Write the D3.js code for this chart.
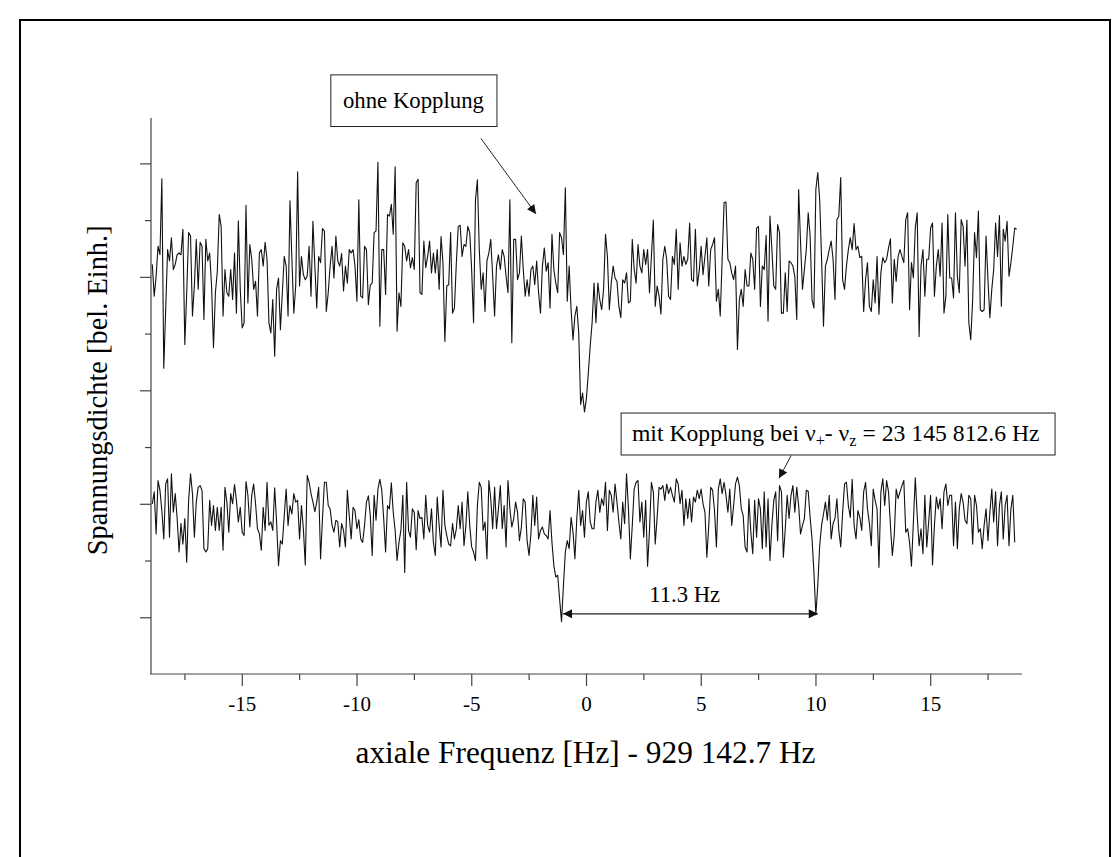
<!DOCTYPE html>
<html><head><meta charset="utf-8">
<script src="https://cdn.jsdelivr.net/npm/d3@7"></script>
<style>
body{margin:0;background:#fff}
svg{display:block}
text{font-family:"Liberation Serif","Times New Roman",serif;fill:#000}
</style>
</head><body>
<svg id="c" width="1113" height="857"></svg>
<script>
// ---- data ----
const freqStart = -18.9;      // Hz, first spectral bin
const freqStep = 1 / 12;      // Hz, bin spacing
const upperTrace = [ // ohne Kopplung
7.22,6.66,7.01,7.54,7.39,8.73,5.39,6.42,7.48,7.28,
7.69,7.13,7.22,7.39,7.42,7.39,7.84,5.81,6.72,7.78,
7.72,6.31,6.84,7.66,6.78,7.61,7.54,6.25,7.66,7.28,
7.42,6.84,5.75,6.72,7.10,8.10,7.89,6.31,7.13,6.72,
6.66,7.13,6.60,7.42,6.36,7.99,6.78,6.10,6.19,8.26,
6.54,7.57,7.31,6.78,6.92,6.31,7.42,7.48,7.19,7.61,
7.31,6.19,6.01,6.60,5.60,6.78,6.98,6.07,6.72,7.36,
7.19,6.31,8.34,7.31,6.36,6.84,8.85,6.84,7.36,7.04,
6.95,7.01,7.54,6.66,7.98,7.19,6.45,7.36,7.25,7.85,
7.81,6.39,6.72,7.19,7.54,6.98,7.72,7.28,7.19,7.41,
6.75,7.19,6.89,7.48,7.42,7.48,7.19,6.57,8.36,6.66,
6.63,7.54,7.48,6.51,
6.86,6.89,7.78,7.81,9.02,6.13,7.48,7.48,6.69,8.10,
8.07,8.28,7.75,8.94,6.04,6.72,6.48,7.60,7.54,7.28,
7.48,7.16,7.34,7.13,8.66,8.72,6.72,6.69,7.63,7.16,
7.36,7.63,7.07,7.42,7.07,7.48,6.78,7.71,7.25,5.86,
6.84,6.86,7.78,6.36,6.45,7.25,7.89,7.91,7.36,7.57,
7.54,7.89,7.78,7.13,6.19,8.36,8.71,7.48,6.78,7.07,
6.39,7.28,7.42,7.66,7.01,6.31,7.19,7.39,7.13,7.48,
7.36,7.01,6.72,8.36,5.84,7.66,7.66,6.95,7.07,7.72,
7.13,6.66,6.95,6.66,7.13,7.19,6.86,7.28,6.72,6.36,
7.19,7.51,7.10,7.25,6.45,7.75,7.13,6.89,6.72,7.78,
7.69,7.39,8.57,6.57,7.19,6.42,5.89,6.31,6.48,6.01,
4.75,4.95,4.62,4.85,5.30,
5.78,6.19,6.89,6.19,6.89,6.60,6.42,6.78,7.75,7.36,
6.42,6.89,7.19,6.98,6.92,6.48,6.28,6.95,6.89,7.07,
6.54,6.57,7.66,7.13,6.89,7.57,7.19,7.07,7.48,7.22,
7.48,6.72,7.36,8.00,6.48,6.84,6.66,6.34,7.31,7.54,
7.31,6.66,6.60,7.36,7.22,7.84,6.78,7.60,7.19,7.36,
7.22,7.31,7.95,6.95,6.92,7.84,6.84,7.10,7.54,7.04,
7.36,7.69,6.84,7.48,7.57,7.69,6.57,6.78,6.31,7.31,
8.31,8.32,7.31,7.25,7.07,6.95,7.19,5.72,6.60,6.78,
6.48,7.13,6.84,6.84,7.42,7.31,6.78,7.86,7.89,6.48,
7.19,7.13,7.73,6.22,8.07,7.48,6.84,6.78,7.92,7.78,
6.36,6.36,7.07,6.39,7.28,7.25,7.19,7.01,6.25,8.54,
7.60,6.78,7.13,7.48,
8.13,7.72,6.60,6.45,8.54,8.84,8.36,7.31,6.13,7.19,
7.31,7.48,7.63,7.31,6.60,8.01,8.07,8.75,6.95,6.78,
7.19,7.48,7.69,7.48,7.94,7.48,7.54,7.34,7.36,6.39,
6.95,7.25,6.48,6.39,6.95,6.54,7.36,6.34,7.07,7.34,
7.25,7.31,7.51,7.67,6.54,7.31,6.92,7.36,7.48,7.36,
7.25,8.01,8.13,6.42,7.25,6.98,7.86,8.13,5.95,7.19,
7.48,6.66,7.31,7.31,7.86,7.95,6.66,7.19,7.48,7.01,
7.95,6.36,6.66,8.10,6.98,6.98,6.63,8.13,7.01,6.72,
8.01,7.89,7.19,8.00,6.19,5.89,6.60,7.78,7.34,8.16,
6.42,6.39,6.42,7.72,6.95,6.28,6.78,7.13,7.95,7.36,
8.08,6.48,7.84,7.63,7.98,7.01,7.25,7.54,7.86,7.84
];
const lowerTrace = [ // mit Kopplung
3.00,3.21,2.47,3.41,3.24,2.88,2.38,3.35,3.44,2.41,
3.53,2.85,3.18,2.74,2.15,2.65,2.29,2.74,1.97,3.06,
3.53,3.18,2.41,3.03,3.29,3.32,3.24,2.21,2.15,2.21,
3.06,2.62,2.97,2.53,2.94,2.53,2.94,2.18,3.29,3.03,
2.50,3.18,3.00,3.34,3.06,2.68,2.94,2.50,2.44,3.39,
3.15,2.59,3.15,3.35,3.00,2.56,2.47,2.18,2.94,2.53,
3.38,2.62,2.68,2.53,3.28,2.68,1.91,2.35,2.29,2.79,
3.26,2.62,2.97,2.82,3.18,3.03,3.06,2.38,2.97,2.56,
1.92,3.50,3.38,3.18,3.03,2.86,3.03,3.29,2.03,2.74,
3.38,3.38,2.97,2.91,2.62,2.50,2.71,2.68,2.24,2.65,
2.53,2.24,3.24,2.79,2.38,2.94,2.88,2.56,2.72,2.38,
2.32,2.62,3.03,3.14,
2.79,2.09,3.15,2.71,3.26,3.43,3.24,2.74,2.15,2.97,
2.91,3.37,2.85,2.53,2.00,2.32,2.53,3.15,1.79,3.38,
2.53,2.41,2.91,2.85,2.19,2.88,2.74,2.76,2.38,3.15,
2.62,2.50,2.91,2.32,2.09,3.12,2.62,2.24,3.24,2.62,
2.44,2.29,2.26,2.65,2.38,2.56,2.97,2.56,3.03,2.26,
2.62,3.21,2.62,2.24,2.15,2.00,2.97,3.38,3.29,2.53,
2.68,2.03,3.41,3.09,2.56,3.29,2.56,2.91,3.32,2.56,
2.97,2.24,3.41,2.91,2.59,2.74,3.03,2.85,2.35,2.59,
3.09,3.03,2.35,2.09,2.47,3.15,2.62,3.12,2.38,2.53,
2.59,2.47,2.44,2.38,2.88,2.32,1.91,1.71,1.74,1.32,
0.92,
1.56,2.15,2.35,2.21,2.76,2.50,2.03,2.74,3.24,2.62,2.88,2.41,3.03,
3.21,2.68,2.56,2.56,3.03,3.24,2.85,3.09,2.97,3.38,
2.53,3.24,3.15,2.85,3.35,3.03,2.68,2.38,3.03,2.65,
3.53,2.91,2.03,2.62,3.26,3.38,3.41,2.68,3.03,2.41,
3.06,1.90,2.53,3.38,3.21,2.29,2.76,3.29,3.26,3.32,
3.06,3.35,3.18,3.29,3.15,3.03,3.44,3.35,3.00,3.24,
2.62,3.09,2.74,3.09,2.68,3.12,3.03,3.24,3.09,3.26,
3.00,2.85,2.06,2.62,3.29,3.24,2.88,2.24,3.26,3.44,
3.18,3.38,3.15,2.85,3.26,2.62,2.97,3.35,3.47,3.32,
2.91,2.79,2.24,2.15,3.09,2.50,2.12,3.06,2.41,3.09,
2.91,2.21,3.21,2.24,3.09,2.00,2.62,3.06,3.21,2.35,
3.32,3.21,2.06,2.56,3.15,2.74,3.15,3.32,2.85,3.29,
2.97,2.47,2.62,2.74,3.24,
3.22,2.76,2.38,1.79,1.04,1.56,2.26,2.62,2.82,3.03,
2.71,3.15,2.38,2.65,2.74,3.09,2.53,2.24,2.85,3.35,
3.38,2.97,2.76,3.43,2.62,2.38,2.88,2.76,2.53,3.21,
3.38,2.91,2.65,2.26,3.26,3.06,2.91,1.88,3.21,3.44,
2.97,3.41,3.21,2.62,2.09,2.44,3.26,3.09,3.21,3.32,
3.41,2.50,2.56,2.32,1.90,2.68,3.46,2.79,2.26,2.56,
2.12,3.15,2.24,2.68,3.15,1.92,2.62,3.12,2.91,3.09,
2.56,3.21,3.35,2.97,3.15,3.15,2.26,3.03,2.21,2.91,
3.18,3.03,2.71,2.65,3.15,3.09,2.29,3.15,2.97,2.50,
2.56,2.21,2.62,2.91,2.35,2.85,3.26,2.68,3.21,2.26,
2.97,3.21,2.38,2.97,3.15,2.26,2.91,3.15,2.32
];
const xMajorTicks = [-15, -10, -5, 0, 5, 10, 15];
const xMinorTicks = [-17.5, -12.5, -7.5, -2.5, 2.5, 7.5, 12.5, 17.5];
const yMajorTicks = [1, 3, 5, 7, 9];
const yMinorTicks = [2, 4, 6, 8];
const xTitle = "axiale Frequenz [Hz] - 929 142.7 Hz";
const yTitle = "Spannungsdichte [bel. Einh.]";
const label1 = "ohne Kopplung";
const splitLabel = "11.3 Hz";
const dipLeft = -1.0, dipRight = 10.1;  // Hz, the two coupled dips

// ---- drawing ----
const svg = d3.select("#c");
const x = d3.scaleLinear().domain([-19, 19]).range([150, 1022]);
const y = d3.scaleLinear().domain([0, 9.8]).range([674, 118]);

// fit a text element to a target width by scaling its font size
function fit(sel, target) {
  const w = sel.node().getComputedTextLength();
  const fs = parseFloat(sel.attr("font-size"));
  sel.attr("font-size", (fs * target / w).toFixed(2));
  sel.selectAll("tspan").each(function () {
    const t = d3.select(this);
    if (t.attr("font-size")) t.attr("font-size", (parseFloat(t.attr("font-size")) * target / w).toFixed(2));
  });
  return sel;
}

// outer frame
svg.append("rect").attr("x", 20).attr("y", 20).attr("width", 1090).attr("height", 900)
  .attr("fill", "none").attr("stroke", "#000").attr("stroke-width", 2);

// axes
const gx = svg.append("g").attr("transform", `translate(0,${y(0)})`);
gx.call(d3.axisBottom(x).tickValues(xMajorTicks).tickSize(12).tickPadding(10)
  .tickFormat(d => String(d)));
const gx2 = svg.append("g").attr("transform", `translate(0,${y(0)})`);
gx2.call(d3.axisBottom(x).tickValues(xMinorTicks).tickSize(6).tickFormat(""));
gx2.select(".domain").remove();
gx.select(".domain").attr("d", `M${x(-19)},0H${x(19)}`);
gx.selectAll("text").attr("font-size", 21).attr("font-family", "Liberation Serif");

const gy = svg.append("g").attr("transform", `translate(${x(-19) + 1},0)`);
gy.call(d3.axisLeft(y).tickValues(yMajorTicks).tickSize(11).tickFormat(""));
gy.select(".domain").attr("d", `M0,${y(0)}V${y(9.8)}`);
const gy2 = svg.append("g").attr("transform", `translate(${x(-19) + 1},0)`);
gy2.call(d3.axisLeft(y).tickValues(yMinorTicks).tickSize(6).tickFormat(""));
gy2.select(".domain").remove();
svg.selectAll(".domain, .tick line").attr("stroke", "#444").attr("stroke-width", 1.2);

// traces
const line = d3.line().x((d, i) => x(freqStart + i * freqStep)).y(d => y(d));
[upperTrace, lowerTrace].forEach(t => {
  svg.append("path").datum(t).attr("d", line).attr("fill", "none")
    .attr("stroke", "#111").attr("stroke-width", 1.1).attr("stroke-linejoin", "round");
});

// axis titles
fit(svg.append("text").attr("x", x(0) - 0.5).attr("y", 763).attr("text-anchor", "middle")
  .attr("font-size", 28).text(xTitle), 460);
fit(svg.append("text").attr("transform", `translate(107,${y(5.0)}) rotate(-90)`)
  .attr("text-anchor", "middle").attr("font-size", 28).text(yTitle), 330);

// markers
const defs = svg.append("defs");
defs.append("marker").attr("id", "ah").attr("viewBox", "0 0 10 10").attr("refX", 10).attr("refY", 5)
  .attr("markerWidth", 17).attr("markerHeight", 9).attr("markerUnits", "userSpaceOnUse")
  .attr("orient", "auto-start-reverse")
  .append("path").attr("d", "M0,0L10,5L0,10Z").attr("fill", "#111");

// annotation 1: ohne Kopplung
svg.append("rect").attr("x", x(-11.12)).attr("y", y(10.56))
  .attr("width", x(-3.88) - x(-11.12)).attr("height", y(9.65) - y(10.56))
  .attr("fill", "#fff").attr("stroke", "#222").attr("stroke-width", 1);
fit(svg.append("text").attr("x", x(-7.52)).attr("y", y(9.97)).attr("text-anchor", "middle")
  .attr("font-size", 21).text(label1), 141);
svg.append("line").attr("x1", x(-4.58)).attr("y1", y(9.44)).attr("x2", x(-2.18)).attr("y2", y(8.11))
  .attr("stroke", "#222").attr("stroke-width", 1).attr("marker-end", "url(#ah)");

// annotation 2: mit Kopplung
svg.append("rect").attr("x", x(1.53)).attr("y", y(4.60))
  .attr("width", x(20.44) - x(1.53)).attr("height", y(3.86) - y(4.60))
  .attr("fill", "#fff").attr("stroke", "#222").attr("stroke-width", 1);
const t2 = svg.append("text").attr("x", x(2.0)).attr("y", y(4.10)).attr("font-size", 19);
t2.append("tspan").text("mit Kopplung bei \u03BD");
t2.append("tspan").attr("dy", 5).attr("font-size", 13).text("+");
t2.append("tspan").attr("dy", -5).text("- \u03BD");
t2.append("tspan").attr("dy", 5).attr("font-size", 13).text("z");
t2.append("tspan").attr("dy", -5).text(" = 23 145 812.6 Hz");
fit(t2, 408);
svg.append("line").attr("x1", x(8.94)).attr("y1", y(3.85)).attr("x2", x(8.41)).attr("y2", y(3.45))
  .attr("stroke", "#222").attr("stroke-width", 1).attr("marker-end", "url(#ah)");

// split arrow
svg.append("line").attr("x1", x(dipLeft)).attr("y1", y(1.06)).attr("x2", x(dipRight)).attr("y2", y(1.06))
  .attr("stroke", "#222").attr("stroke-width", 1.2)
  .attr("marker-start", "url(#ah)").attr("marker-end", "url(#ah)");
fit(svg.append("text").attr("x", x(4.3)).attr("y", y(1.27)).attr("text-anchor", "middle")
  .attr("font-size", 19).text(splitLabel), 71);
</script>
</body></html>
